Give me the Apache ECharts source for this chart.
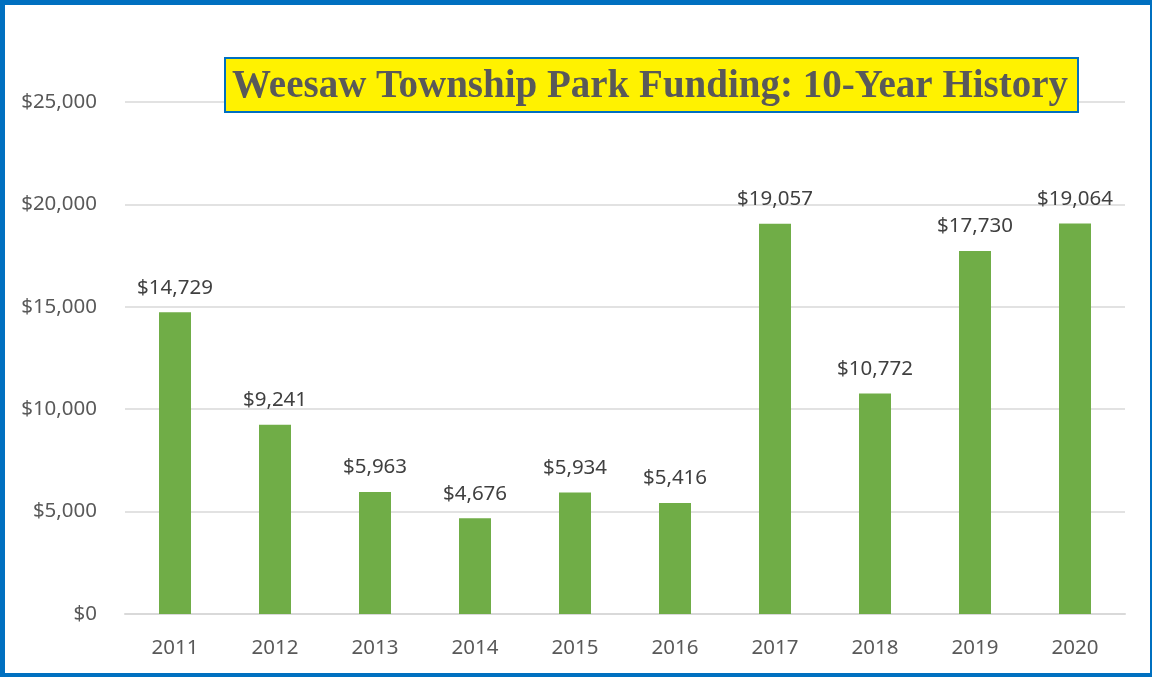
<!DOCTYPE html>
<html>
<head>
<meta charset="utf-8">
<script src="https://cdn.jsdelivr.net/npm/echarts@6/dist/echarts.min.js"></script>
<style>
  html, body { margin: 0; padding: 0; background: #fff; }
  #main { position: absolute; left: 0; top: 0; width: 1152px; height: 677px; }
  #frame {
    position: absolute; left: 0; top: 0; width: 1152px; height: 677px;
    box-sizing: border-box; pointer-events: none;
    border-style: solid; border-color: #0070c0;
    border-width: 5px 2px 4px 5px;
  }
</style>
</head>
<body>
<div id="main"></div>
<div id="frame"></div>
<script>
const years = ['2011', '2012', '2013', '2014', '2015', '2016', '2017', '2018', '2019', '2020'];
const funding = [14729, 9241, 5963, 4676, 5934, 5416, 19057, 10772, 17730, 19064];
const titleText = 'Weesaw Township Park Funding: 10-Year History';

const money = v => '$' + Number(v).toLocaleString('en-US');

const myChart = echarts.init(document.getElementById('main'));

const option = {
  backgroundColor: '#ffffff',
  animation: false,
  title: {
    text: titleText,
    left: 225,
    top: 58,
    padding: [9, 10, 5, 7],
    backgroundColor: '#fff200',
    borderColor: '#0070c0',
    borderWidth: 2,
    textStyle: {
      fontFamily: 'Liberation Serif',
      fontWeight: 'bold',
      fontSize: 39,
      lineHeight: 40,
      color: '#595959',
    },
    z: 10,
  },
  grid: {
    left: 125,
    right: 27,
    top: 102,
    bottom: 63,
    containLabel: false,
  },
  xAxis: {
    type: 'category',
    data: years,
    axisLine: { lineStyle: { color: '#d9d9d9', width: 2 } },
    axisTick: { show: false },
    axisLabel: {
      color: '#595959',
      fontFamily: 'Noto Sans',
      fontSize: 20.5,
      margin: 24,
    },
  },
  yAxis: {
    type: 'value',
    min: 0,
    max: 25000,
    interval: 5000,
    axisLine: { show: false },
    axisTick: { show: false },
    splitLine: { lineStyle: { color: '#d9d9d9', width: 1.5 } },
    axisLabel: {
      color: '#595959',
      fontFamily: 'Noto Sans',
      fontSize: 20.5,
      margin: 28,
      formatter: money,
    },
  },
  series: [
    {
      name: 'Funding',
      type: 'bar',
      data: funding,
      barWidth: 32,
      itemStyle: { color: '#70ad47' },
      label: {
        show: true,
        position: 'top',
        distance: 14,
        color: '#404040',
        fontFamily: 'Noto Sans',
        fontSize: 20.5,
        formatter: p => money(p.value),
      },
    },
  ],
};

option && myChart.setOption(option);
</script>
</body>
</html>
